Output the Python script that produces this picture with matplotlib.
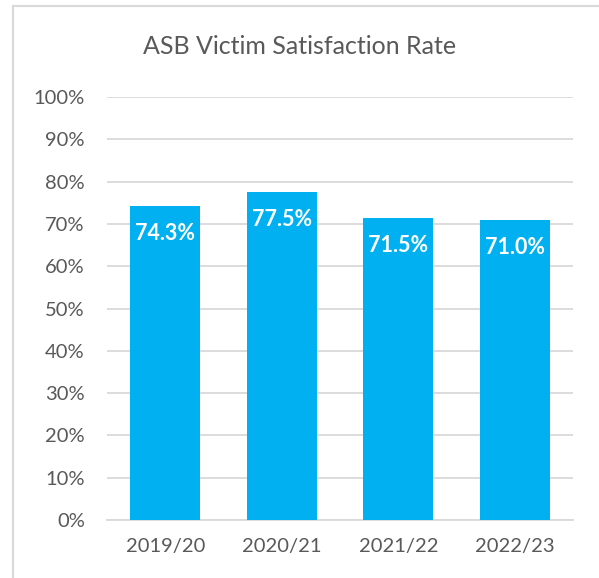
import matplotlib.pyplot as plt
from matplotlib.lines import Line2D

years = ["2019/20", "2020/21", "2021/22", "2022/23"]
rates = [74.3, 77.5, 71.5, 71.0]
yticks = [0, 10, 20, 30, 40, 50, 60, 70, 80, 90, 100]

plt.rcParams['font.family'] = ['Lato', 'DejaVu Sans']

fig = plt.figure(figsize=(5.99, 5.78), dpi=100)
ax = fig.add_axes([107 / 599, 1 - 520 / 578, 466 / 599, 423 / 578])

ax.bar(range(len(years)), rates, width=0.6, color="#00B0F0", zorder=3)
for i, v in enumerate(rates):
    ax.text(i, v - 6.5, f"{v:.1f}%", ha="center", va="center",
            color="white", fontsize=15.5, fontweight="bold", zorder=4)

ax.set_xlim(-0.5, len(years) - 0.5)
ax.set_ylim(0, 100)
ax.set_yticks(yticks)
ax.set_yticklabels([f"{t}%" for t in yticks])
ax.set_xticks(range(len(years)))
ax.set_xticklabels(years)
ax.grid(axis="y", color="#d9d9d9", linewidth=1.3, zorder=0)
for s in ["top", "right", "left"]:
    ax.spines[s].set_visible(False)
ax.spines["bottom"].set_color("#d9d9d9")
ax.spines["bottom"].set_linewidth(1.3)
ax.tick_params(length=0, colors="#595959", labelsize=14.5)
ax.tick_params(axis="x", pad=13)
ax.tick_params(axis="y", pad=16)

fig.text(300 / 599, 1 - 47 / 578, "ASB Victim Satisfaction Rate", ha="center",
         va="center", fontsize=18, color="#595959")

# chart border (top and left)
fig.add_artist(Line2D([13 / 599, 13 / 599], [0, 1 - 6 / 578], transform=fig.transFigure,
                      color="#d9d9d9", linewidth=1.5))
fig.add_artist(Line2D([13 / 599, 1], [1 - 6 / 578, 1 - 6 / 578], transform=fig.transFigure,
                      color="#d9d9d9", linewidth=1.5))

fig.savefig("out.png", dpi=100)
